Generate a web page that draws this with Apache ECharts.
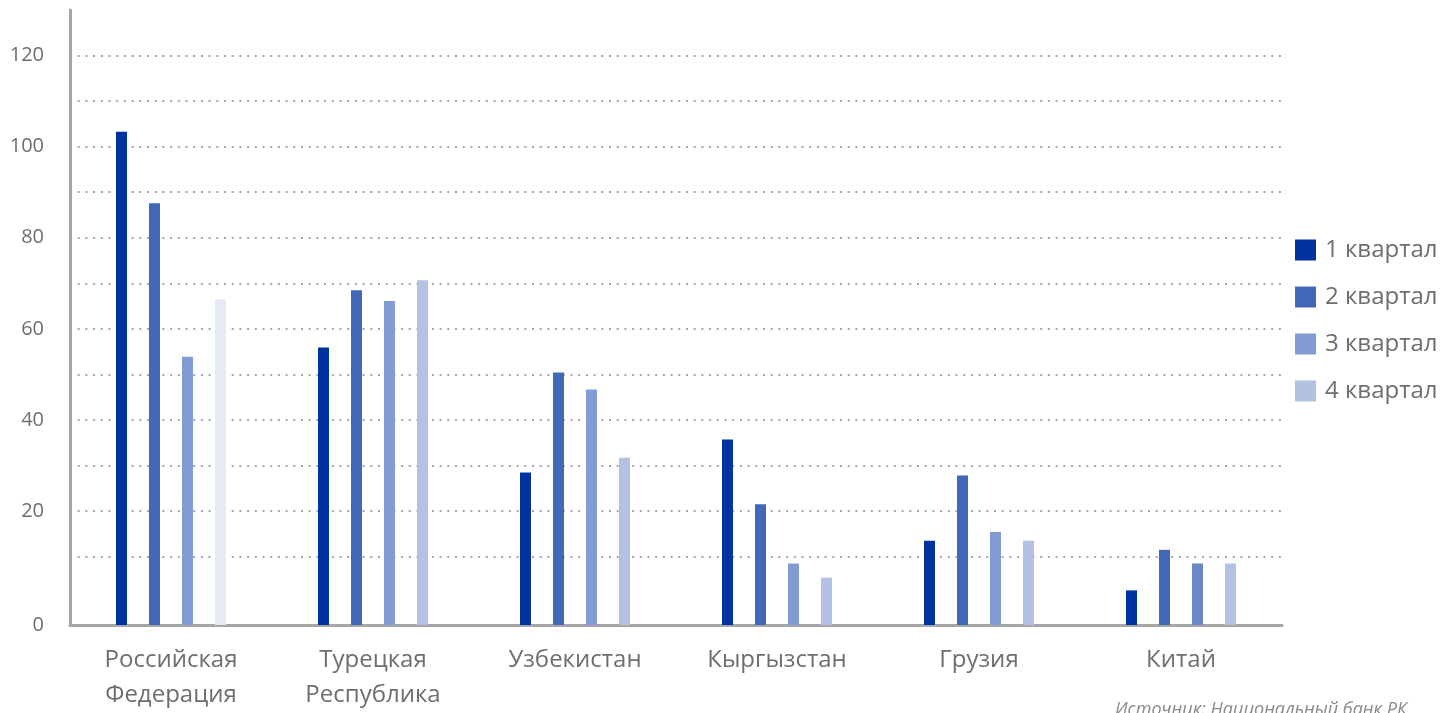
<!DOCTYPE html>
<html>
<head>
<meta charset="utf-8">
<script src="https://cdn.jsdelivr.net/npm/echarts@6/dist/echarts.min.js"></script>
<style>
html,body{margin:0;padding:0;background:#fff;}
#chart{width:1444px;height:713px;}
</style>
</head>
<body>
<div id="chart"></div>
<script>
// ---- data ----
const categories = ['Российская\nФедерация', 'Турецкая\nРеспублика', 'Узбекистан', 'Кыргызстан', 'Грузия', 'Китай'];
const seriesNames = ['1 квартал', '2 квартал', '3 квартал', '4 квартал'];
const q1 = [103.3, 55.9, 28.5, 35.7, 13.5, 2.6];
const q2 = [87.6, 68.5, 50.4, 21.5, 27.8, 11.5];
const q3 = [53.9, 66.1, 46.7, 8.5, 15.4, 8.5];
const q4 = [66.5, 70.7, 31.7, 5.4, 13.5, 8.5];
const yTickLabels = ['0', '20', '40', '60', '80', '100', '120'];
const yLabelValues = [-5, 20, 40, 60, 80, 100, 120];
const yGridValues = [10, 20, 30, 40, 50, 60, 70, 80, 90, 100, 110, 120];
const sourceText = 'Источник: Национальный банк РК';

const colors = ['#0033A0', '#4169B8', '#829BD2', '#B3C2E3'];
// individual bar colour overrides seen in the picture
const overrides = { '3-0': '#E6EAF6', '2-5': '#6B88C4' };

const font = "'Open Sans', 'Noto Sans', sans-serif";
const textColor = '#6E6E6E';

const allData = [q1, q2, q3, q4];
const series = allData.map((arr, si) => ({
  name: seriesNames[si],
  type: 'bar',
  barWidth: 11,
  barGap: '200%',
  itemStyle: { color: colors[si] },
  data: arr.map((v, ci) => {
    const key = si + '-' + ci;
    return overrides[key] ? { value: v, itemStyle: { color: overrides[key] } } : v;
  })
}));

const chart = echarts.init(document.getElementById('chart'), null, { renderer: 'canvas' });
chart.setOption({
  animation: false,
  backgroundColor: '#ffffff',
  textStyle: { fontFamily: font },
  grid: { left: 70, right: 162, top: 10, bottom: 83, containLabel: false },
  legend: {
    orient: 'vertical',
    left: 1290,
    top: 233,
    itemWidth: 21,
    itemHeight: 21,
    itemGap: 23,
    icon: 'rect',
    data: seriesNames,
    textStyle: { fontFamily: font, fontSize: 24, lineHeight: 24, color: textColor, padding: [0, 0, 0, 4] }
  },
  xAxis: {
    type: 'category',
    data: categories,
    axisLine: { onZero: false, lineStyle: { color: '#A6A6A6', width: 3 } },
    axisTick: { show: false },
    axisLabel: {
      fontFamily: font, fontSize: 24, color: textColor,
      margin: 18, lineHeight: 35, interval: 0
    }
  },
  yAxis: {
    type: 'value',
    min: -5,
    max: 130,
    startValue: -5,
    axisLine: { show: true, lineStyle: { color: '#A6A6A6', width: 3 } },
    axisTick: { show: false, customValues: yGridValues },
    axisLabel: {
      customValues: yLabelValues,
      fontFamily: font, fontSize: 20, color: textColor, margin: 26,
      formatter: function (v) {
        const i = yLabelValues.indexOf(v);
        return i >= 0 ? yTickLabels[i] : '';
      }
    },
    splitLine: {
      show: true,
      lineStyle: { color: '#A6A6A6', width: 2, type: [2, 5.7] }
    }
  },
  graphic: [{
    type: 'text',
    left: 1115,
    top: 701,
    style: {
      text: sourceText,
      fontFamily: font,
      fontStyle: 'italic',
      fontSize: 18,
      fill: '#8A8A8A'
    }
  }],
  series: series
});
</script>
</body>
</html>
